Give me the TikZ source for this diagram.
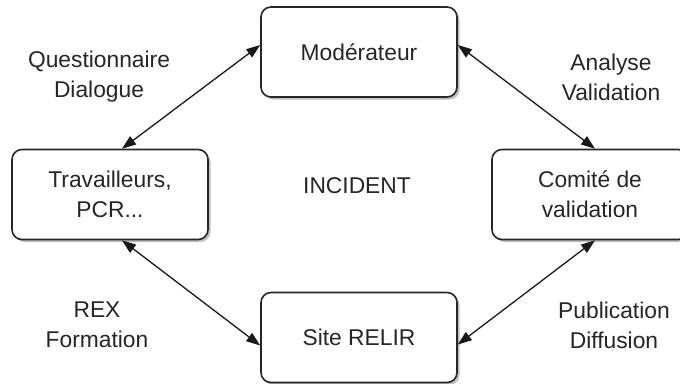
\documentclass[tikz,border=0pt]{standalone}
\usepackage{fontspec}
\setmainfont{Liberation Sans}
\usetikzlibrary{arrows.meta,shadows,calc}

\tikzset{
  box/.style={draw=black!85, line width=1.6pt, rounded corners=10pt, fill=white,
    minimum width=196pt, minimum height=90pt, align=center, inner sep=0pt,
    text=black!85, font=\fontsize{22.8}{30}\selectfont,
    drop shadow={shadow xshift=2.5pt, shadow yshift=-2.5pt, fill=black, opacity=0.25}},
  lbl/.style={align=center, inner sep=0pt, text=black!85, font=\fontsize{22.8}{30}\selectfont},
  link/.style={line width=1.3pt, draw=black!90,
    {Triangle[length=14pt,width=10pt]}-{Triangle[length=14pt,width=10pt]}}
}

\begin{document}
\begin{tikzpicture}[x=1pt,y=-1pt]
  \useasboundingbox (0,0) rectangle (680,383);
  \fill[white] (0,0) rectangle (680,383);
  \clip (0,0) rectangle (680,383);

  % the four actors around the incident
  \node[box] (mod)  at (359,52)  {Modérateur};
  \node[box] (trav) at (110,194.5) {Travailleurs,\\PCR...};
  \node[box] (com)  at (590,194.5) {Comité de\\validation};
  \node[box] (site) at (359,337.5) {Site RELIR};

  \node[lbl] (inc) at (357,186) {INCIDENT};

  % exchanges between actors
  \draw[link] ([yshift=7pt]mod.west)  -- ([xshift=12pt]trav.north);
  \draw[link] ([yshift=7pt]mod.east)  -- ([xshift=5pt]com.north);
  \draw[link] ([xshift=12pt]trav.south) -- ([yshift=-8pt]site.west);
  \draw[link] ([xshift=5pt]com.south) -- ([yshift=-7pt]site.east);

  % labels of the exchanges
  \node[lbl] (l1) at (99,77)  {Questionnaire\\Dialogue};
  \node[lbl] (l2) at (611,77) {Analyse\\Validation};
  \node[lbl] (l3) at (97,325) {REX\\Formation};
  \node[lbl] (l4) at (614,325) {Publication\\Diffusion};
\end{tikzpicture}
\end{document}
